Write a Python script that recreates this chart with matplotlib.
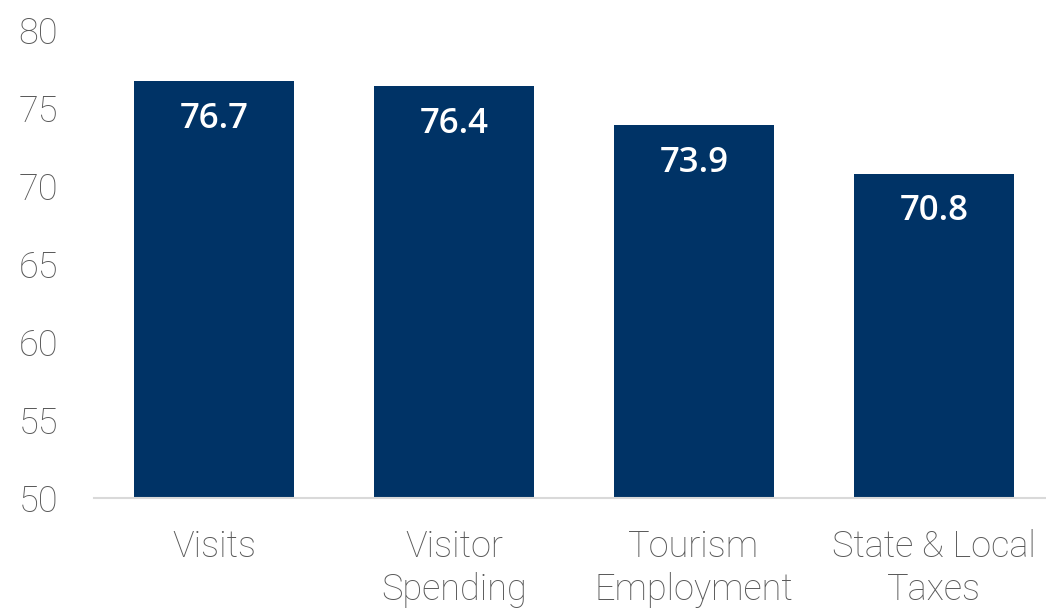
import matplotlib
matplotlib.use("Agg")
import matplotlib.pyplot as plt
import numpy as np

categories = ["Visits", "Visitor\nSpending", "Tourism\nEmployment", "State & Local\nTaxes"]
values = [76.7, 76.4, 73.9, 70.8]
yticks = [50, 55, 60, 65, 70, 75, 80]

navy = "#003366"
gray_text = "#595959"

fig = plt.figure(figsize=(10.46, 6.09), dpi=100)
left = 94 / 1046
ax = fig.add_axes([left, 111 / 609, 1 - left, (498 - 30) / 609])

x = np.arange(len(categories))
bars = ax.bar(x, values, width=0.667, color=navy, bottom=0)

ax.set_ylim(50, 80)
ax.set_xlim(-0.5, 3.5 - 8 / 240)
ax.set_yticks(yticks)
ax.set_xticks(x)
ax.set_xticklabels(categories, fontfamily="Roboto", fontweight="light",
                   fontsize=26, color=gray_text, linespacing=1.25)
ax.set_yticklabels([str(t) for t in yticks], fontfamily="Roboto", fontweight="light",
                   fontsize=26, color=gray_text)
ax.tick_params(axis="both", length=0)
ax.tick_params(axis="y", pad=26)
ax.tick_params(axis="x", pad=22)

for s in ["top", "right", "left"]:
    ax.spines[s].set_visible(False)
ax.spines["bottom"].set_color("#d9d9d9")
ax.spines["bottom"].set_linewidth(1.5)

# value labels inside the bars, just under the top edge
for xi, v in zip(x, values):
    ax.annotate(f"{v:.1f}", (xi, v), xytext=(0, -27), textcoords="offset points",
                ha="center", va="center", color="white", fontsize=25,
                fontfamily="Open Sans", fontweight="semibold")

fig.savefig("out.png", dpi=100)
